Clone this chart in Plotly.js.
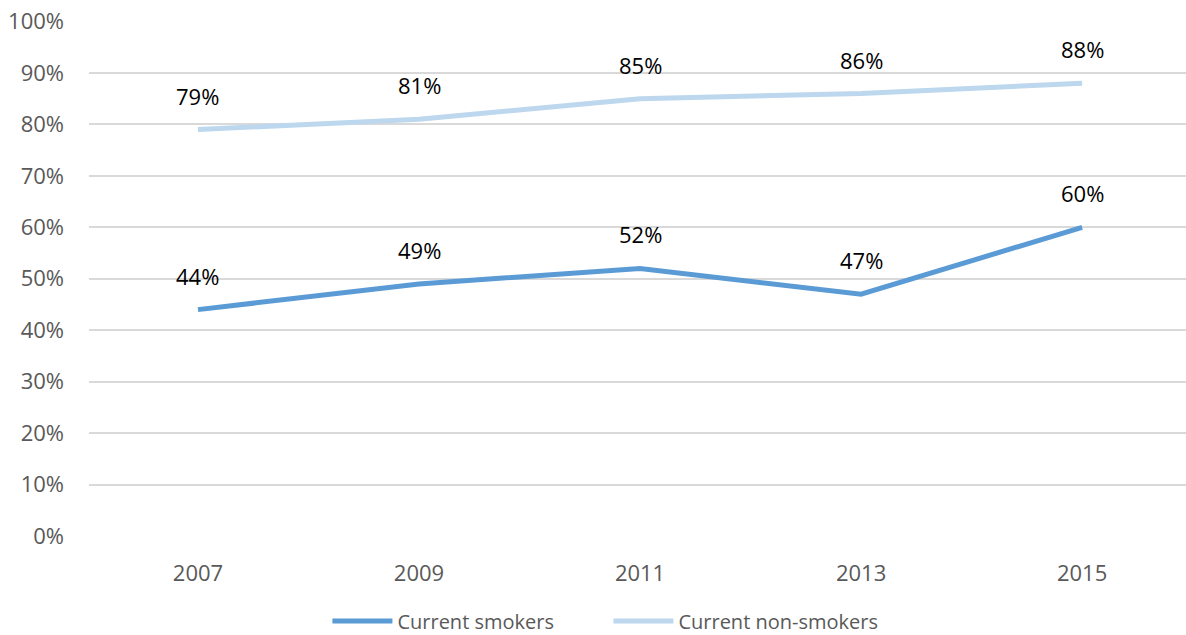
<!DOCTYPE html>
<html><head><meta charset="utf-8">
<script src="https://cdn.plot.ly/plotly-3.0.1.min.js"></script>
<style>html,body{margin:0;padding:0;background:#fff}#chart{width:1186px;height:635px}</style>
</head><body><div id="chart"></div>
<script>
var years = ['2007','2009','2011','2013','2015'];
var smokers = [0.44,0.49,0.52,0.47,0.60];
var nonSmokers = [0.79,0.81,0.85,0.86,0.88];
var seriesNames = ['Current smokers','Current non-smokers'];
var seriesColors = ['#5B9BD5','#BDD7EE'];

var font = 'Open Sans';
var traces = [smokers, nonSmokers].map(function(vals,i){
  return {x: years, y: vals, type:'scatter', mode:'lines', name: seriesNames[i],
    line:{color: seriesColors[i], width:5}, hoverinfo:'skip'};
});
var annotations = [];
[smokers, nonSmokers].forEach(function(vals){
  vals.forEach(function(v,j){
    annotations.push({xref:'x', yref:'y', x: j, y: v, text: Math.round(v*100)+'%', showarrow:false,
      yshift:34, font:{family:font, size:22, color:'#000000'}});
  });
});
var layout = {
  width:1186, height:635, paper_bgcolor:'#fff', plot_bgcolor:'#fff',
  margin:{l:89, r:0, t:21, b:99, autoexpand:false},
  font:{family:font, color:'#595959', size:21},
  xaxis:{type:'category', range:[-0.493,4.47], showgrid:false, zeroline:false, showline:false,
    automargin:false, ticks:'', ticklabelstandoff:22, tickfont:{family:font, size:22, color:'#595959'}},
  yaxis:{range:[0,1.001], dtick:0.1, tickformat:'.0%', gridcolor:'#D9D9D9', gridwidth:2,
    automargin:false, zeroline:false, showline:false, ticks:'', ticklabelstandoff:24, tickfont:{family:font, size:22, color:'#595959'}},
  showlegend:true,
  legend:{orientation:'h', x:0.513, xref:'container', xanchor:'center', y:0.022, yref:'container', yanchor:'middle',
    font:{family:font, size:20, color:'#595959'}, itemwidth:60, entrywidth:206, entrywidthmode:'pixels'},
  annotations: annotations
};
Plotly.newPlot('chart', traces, layout, {displayModeBar:false, staticPlot:true});
</script></body></html>
